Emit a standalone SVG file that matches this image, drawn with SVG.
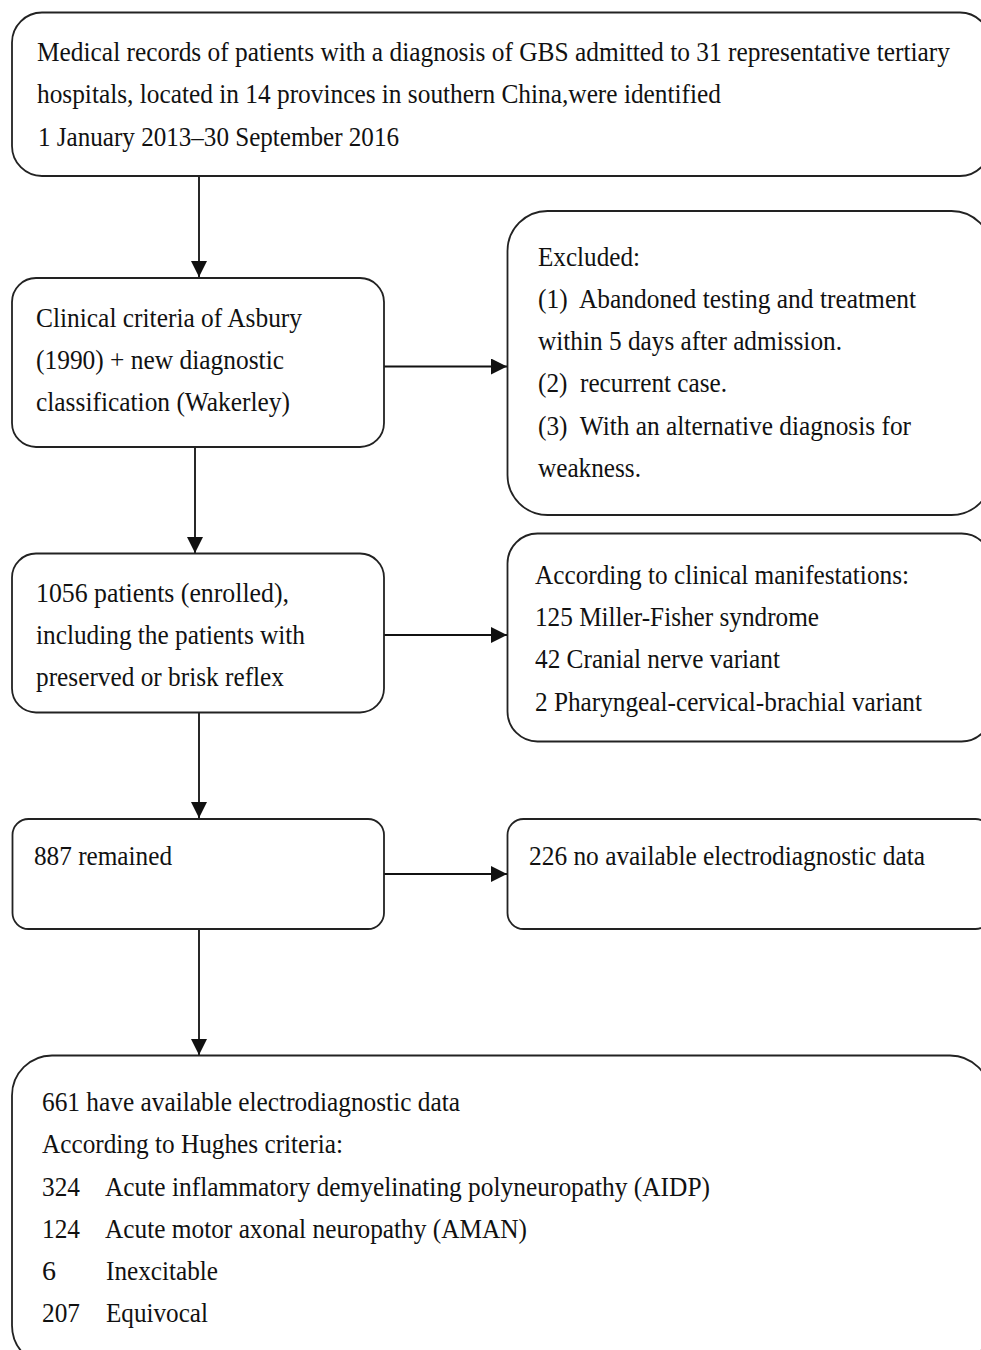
<svg xmlns="http://www.w3.org/2000/svg" width="981" height="1350" viewBox="0 0 981 1350">
<defs>
<style>
.box{fill:#fff;stroke:#222;stroke-width:1.8}
.t{font-family:"Liberation Serif","Times New Roman",serif;font-size:28px;fill:#111;white-space:pre}
.c{stroke:#111;stroke-width:1.8;fill:none}
</style>
<marker id="ah" markerWidth="17" markerHeight="16" refX="16" refY="8" orient="auto" markerUnits="userSpaceOnUse">
<path d="M0,0 L16,8 L0,16 Z" fill="#111"/>
</marker>
</defs>
<rect width="981" height="1350" fill="#fff"/>

<g id="connectors">
<line class="c" x1="199" y1="177" x2="199" y2="277" marker-end="url(#ah)"/>
<line class="c" x1="384" y1="366.5" x2="507" y2="366.5" marker-end="url(#ah)"/>
<line class="c" x1="195" y1="447" x2="195" y2="553" marker-end="url(#ah)"/>
<line class="c" x1="384" y1="635" x2="507" y2="635" marker-end="url(#ah)"/>
<line class="c" x1="199" y1="713" x2="199" y2="818" marker-end="url(#ah)"/>
<line class="c" x1="384" y1="874" x2="507" y2="874" marker-end="url(#ah)"/>
<line class="c" x1="199" y1="929" x2="199" y2="1055" marker-end="url(#ah)"/>
</g>

<g id="n1">
<rect class="box" x="12" y="12.5" width="978" height="163.5" rx="30" ry="30"/>
<text class="t" x="37" y="61" textLength="913" lengthAdjust="spacingAndGlyphs">Medical records of patients with a diagnosis of GBS admitted to 31 representative tertiary</text>
<text class="t" x="37" y="103" textLength="684" lengthAdjust="spacingAndGlyphs">hospitals, located in 14 provinces in southern China,were identified</text>
<text class="t" x="38" y="145.5" textLength="361" lengthAdjust="spacingAndGlyphs">1 January 2013–30 September 2016</text>
</g>

<g id="n2">
<rect class="box" x="12" y="278" width="372" height="169" rx="24" ry="24"/>
<text class="t" x="36" y="327" textLength="266" lengthAdjust="spacingAndGlyphs">Clinical criteria of Asbury</text>
<text class="t" x="36" y="369" textLength="248" lengthAdjust="spacingAndGlyphs">(1990) + new diagnostic</text>
<text class="t" x="36" y="411" textLength="254" lengthAdjust="spacingAndGlyphs">classification (Wakerley)</text>
</g>

<g id="n3">
<rect class="box" x="507.5" y="211" width="484" height="304" rx="40" ry="40"/>
<text class="t" x="538" y="265.5" textLength="102" lengthAdjust="spacingAndGlyphs">Excluded:</text>
<text class="t" x="538" y="307.5" textLength="378" lengthAdjust="spacingAndGlyphs" xml:space="preserve">(1)  Abandoned testing and treatment</text>
<text class="t" x="538" y="349.5" textLength="304" lengthAdjust="spacingAndGlyphs">within 5 days after admission.</text>
<text class="t" x="538" y="392" textLength="189" lengthAdjust="spacingAndGlyphs" xml:space="preserve">(2)  recurrent case.</text>
<text class="t" x="538" y="434.5" textLength="373" lengthAdjust="spacingAndGlyphs" xml:space="preserve">(3)  With an alternative diagnosis for</text>
<text class="t" x="538" y="477" textLength="103" lengthAdjust="spacingAndGlyphs">weakness.</text>
</g>

<g id="n4">
<rect class="box" x="12" y="553.5" width="372" height="159" rx="24" ry="24"/>
<text class="t" x="36" y="602" textLength="253" lengthAdjust="spacingAndGlyphs">1056 patients (enrolled),</text>
<text class="t" x="36" y="644" textLength="269" lengthAdjust="spacingAndGlyphs">including the patients with</text>
<text class="t" x="36" y="686" textLength="248" lengthAdjust="spacingAndGlyphs">preserved or brisk reflex</text>
</g>

<g id="n5">
<rect class="box" x="507.5" y="533.5" width="484" height="208" rx="30" ry="30"/>
<text class="t" x="535" y="584" textLength="374" lengthAdjust="spacingAndGlyphs">According to clinical manifestations:</text>
<text class="t" x="535" y="626" textLength="284" lengthAdjust="spacingAndGlyphs">125 Miller-Fisher syndrome</text>
<text class="t" x="535" y="668" textLength="245" lengthAdjust="spacingAndGlyphs">42 Cranial nerve variant</text>
<text class="t" x="535" y="711" textLength="387" lengthAdjust="spacingAndGlyphs">2 Pharyngeal-cervical-brachial variant</text>
</g>

<g id="n6">
<rect class="box" x="12.5" y="819" width="371.5" height="110" rx="16" ry="16"/>
<text class="t" x="34" y="865" textLength="138" lengthAdjust="spacingAndGlyphs">887 remained</text>
</g>

<g id="n7">
<rect class="box" x="507.5" y="819" width="484" height="110" rx="16" ry="16"/>
<text class="t" x="529" y="865" textLength="396" lengthAdjust="spacingAndGlyphs">226 no available electrodiagnostic data</text>
</g>

<g id="n8">
<rect class="box" x="12" y="1055.5" width="978" height="310" rx="40" ry="40"/>
<text class="t" x="42" y="1111" textLength="418" lengthAdjust="spacingAndGlyphs">661 have available electrodiagnostic data</text>
<text class="t" x="42" y="1153" textLength="301" lengthAdjust="spacingAndGlyphs">According to Hughes criteria:</text>
<text class="t" x="42" y="1196" textLength="38" lengthAdjust="spacingAndGlyphs">324</text>
<text class="t" x="105" y="1196" textLength="605" lengthAdjust="spacingAndGlyphs">Acute inflammatory demyelinating polyneuropathy (AIDP)</text>
<text class="t" x="42" y="1238" textLength="38" lengthAdjust="spacingAndGlyphs">124</text>
<text class="t" x="105" y="1238" textLength="422" lengthAdjust="spacingAndGlyphs">Acute motor axonal neuropathy (AMAN)</text>
<text class="t" x="42" y="1280">6</text>
<text class="t" x="106" y="1280" textLength="112" lengthAdjust="spacingAndGlyphs">Inexcitable</text>
<text class="t" x="42" y="1322" textLength="38" lengthAdjust="spacingAndGlyphs">207</text>
<text class="t" x="106" y="1322" textLength="102" lengthAdjust="spacingAndGlyphs">Equivocal</text>
</g>
</svg>
